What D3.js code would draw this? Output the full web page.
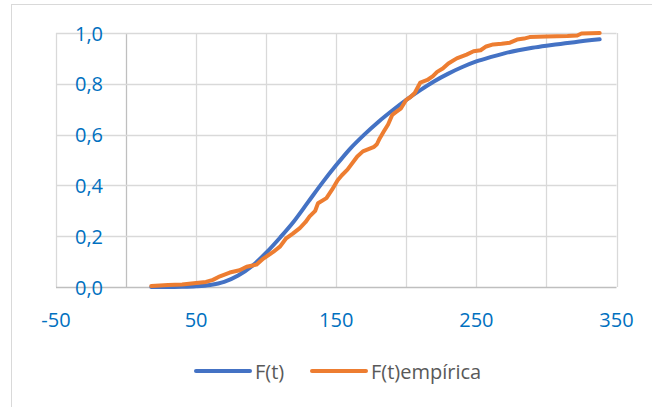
<!DOCTYPE html>
<html>
<head>
<meta charset="utf-8">
<script src="https://cdn.jsdelivr.net/npm/d3@7"></script>
<style>
  html, body { margin: 0; padding: 0; background: #fff; }
  svg { display: block; font-family: "Open Sans", "DejaVu Sans", sans-serif; }
</style>
</head>
<body>
<svg id="chart" width="652" height="407"></svg>
<script>
// values
const xTicks = [-50, 50, 150, 250, 350];
const xGrid = [-50, 0, 50, 100, 150, 200, 250, 300, 350];
const yTicks = [0, 0.2, 0.4, 0.6, 0.8, 1.0];

// F(t) – fitted distribution
const tModel = [18, 30, 40, 50, 60, 70, 80, 90, 100, 110, 120, 130, 140, 150, 160, 170, 180, 190, 200, 210, 220, 230, 240, 250, 260, 270, 280, 290, 300, 310, 320, 338];
const fModel = [0, 0.0003, 0.001, 0.003, 0.008, 0.02, 0.045, 0.083, 0.135, 0.195, 0.26, 0.335, 0.41, 0.48, 0.545, 0.6, 0.65, 0.695, 0.737, 0.775, 0.81, 0.84, 0.866, 0.888, 0.905, 0.92, 0.932, 0.942, 0.95, 0.957, 0.964, 0.975];

// F(t)empírica – empirical distribution
const tEmp = [18, 30, 40, 50, 57, 62, 67, 74, 81, 86, 93, 98, 105, 110, 114, 119, 124, 128, 131, 135, 137, 143, 147, 151, 154, 158, 165, 169, 173, 177, 179, 181, 184, 187, 190, 193, 196, 200, 203, 206, 210, 215, 219, 222, 226, 230, 236, 243, 248, 253, 257, 262, 268, 274, 279, 284, 288, 300, 315, 322, 325, 338];
const fEmp = [0.004, 0.008, 0.01, 0.016, 0.02, 0.028, 0.042, 0.057, 0.066, 0.08, 0.088, 0.112, 0.138, 0.16, 0.19, 0.21, 0.232, 0.255, 0.278, 0.3, 0.33, 0.35, 0.383, 0.42, 0.44, 0.462, 0.514, 0.534, 0.543, 0.552, 0.562, 0.585, 0.613, 0.64, 0.678, 0.69, 0.702, 0.737, 0.748, 0.764, 0.805, 0.815, 0.83, 0.847, 0.86, 0.88, 0.9, 0.915, 0.928, 0.932, 0.947, 0.955, 0.958, 0.962, 0.974, 0.978, 0.984, 0.986, 0.988, 0.99, 0.998, 1.0];

const series = [
    { name: 'F(t)', color: '#4472C4', t: tModel, f: fModel, curve: d3.curveMonotoneX },
    { name: 'F(t)empírica', color: '#ED7D31', t: tEmp, f: fEmp, curve: d3.curveLinear }
];

const svg = d3.select('#chart');

// chart frame (runs off the right/bottom edge like the reference crop)
svg.append('rect')
    .attr('x', 11.5).attr('y', 4.5)
    .attr('width', 700).attr('height', 500)
    .attr('fill', '#fff').attr('stroke', '#d9d9d9');

const x = d3.scaleLinear().domain([-50, 350]).range([56, 616.5]);
const y = d3.scaleLinear().domain([0, 1]).range([287, 33]);

const grid = svg.append('g').attr('class', 'grid');
grid.selectAll('line.v')
    .data(xGrid)
    .join('line')
    .attr('class', 'v')
    .attr('x1', d => Math.round(x(d)) + 0.5).attr('x2', d => Math.round(x(d)) + 0.5)
    .attr('y1', y(0)).attr('y2', y(1))
    .attr('stroke', d => d === 0 ? '#bfbfbf' : '#d9d9d9')
    .attr('stroke-width', 1.3);
grid.selectAll('line.h')
    .data(yTicks)
    .join('line')
    .attr('class', 'h')
    .attr('x1', x(-50)).attr('x2', x(350))
    .attr('y1', d => Math.round(y(d)) + 0.5).attr('y2', d => Math.round(y(d)) + 0.5)
    .attr('stroke', d => d === 0 ? '#bfbfbf' : '#d9d9d9')
    .attr('stroke-width', 1.3);

// tick labels
const fmtY = d => d3.format('.1f')(d).replace('.', ',');
svg.append('g').selectAll('text')
    .data(yTicks)
    .join('text')
    .attr('x', 103).attr('y', d => y(d))
    .attr('text-anchor', 'end')
    .attr('dominant-baseline', 'central')
    .attr('fill', '#0070C0')
    .attr('font-size', 20)
    .text(fmtY);

svg.append('g').selectAll('text')
    .data(xTicks)
    .join('text')
    .attr('x', d => x(d)).attr('y', 319)
    .attr('text-anchor', 'middle')
    .attr('dominant-baseline', 'central')
    .attr('fill', '#0070C0')
    .attr('font-size', 20)
    .text(d => d);

// series
const lines = svg.append('g').attr('class', 'series');
series.forEach(s => {
    const pts = s.t.map((t, i) => [t, s.f[i]]);
    const line = d3.line()
        .x(d => x(d[0]))
        .y(d => y(d[1]))
        .curve(s.curve);
    lines.append('path')
        .datum(pts)
        .attr('d', line)
        .attr('fill', 'none')
        .attr('stroke', s.color)
        .attr('stroke-width', 4)
        .attr('stroke-linejoin', 'round')
        .attr('stroke-linecap', 'round');
});

// legend
const legendX = [196, 312];
const legend = svg.append('g').attr('class', 'legend');
const items = legend.selectAll('g')
    .data(series)
    .join('g')
    .attr('transform', (d, i) => `translate(${legendX[i]},371)`);
items.append('line')
    .attr('x1', 0).attr('x2', 54)
    .attr('stroke', d => d.color)
    .attr('stroke-width', 4)
    .attr('stroke-linecap', 'round');
items.append('text')
    .attr('x', 59)
    .attr('dominant-baseline', 'central')
    .attr('fill', '#595959')
    .attr('font-size', 20)
    .text(d => d.name);
</script>
</body>
</html>
